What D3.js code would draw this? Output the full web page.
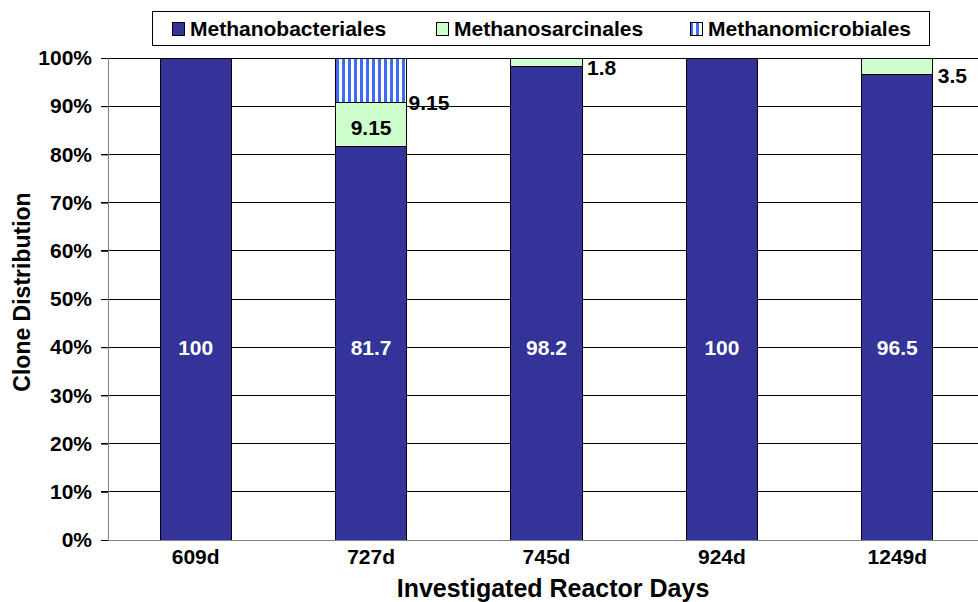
<!DOCTYPE html>
<html>
<head>
<meta charset="utf-8">
<script src="https://cdn.jsdelivr.net/npm/d3@7"></script>
<style>
  body { margin: 0; background: #fff; }
  text { font-family: "Liberation Sans", Arial, sans-serif; font-weight: bold; }
</style>
</head>
<body>
<div id="chart"></div>
<script>
const categories = ["609d", "727d", "745d", "924d", "1249d"];
const bacteriales = [100, 81.7, 98.2, 100, 96.5];
const sarcinales = [0, 9.15, 1.8, 0, 3.5];
const microbiales = [0, 9.15, 0, 0, 0];
const seriesNames = ["Methanobacteriales", "Methanosarcinales", "Methanomicrobiales"];
const yTicks = [0, 10, 20, 30, 40, 50, 60, 70, 80, 90, 100];

const w = 978, h = 602;
const plotLeft = 108, plotRight = 985, plotTop = 58, plotBottom = 540;

const svg = d3.select("#chart").append("svg")
  .attr("width", w)
  .attr("height", h);

// stripe pattern for Methanomicrobiales
const defs = svg.append("defs");
const pat = defs.append("pattern")
  .attr("id", "stripes")
  .attr("patternUnits", "userSpaceOnUse")
  .attr("width", 6)
  .attr("height", 6);
pat.append("rect").attr("width", 6).attr("height", 6).attr("fill", "#ffffff");
pat.append("rect").attr("width", 3).attr("height", 6).attr("fill", "#3d6bff");

const colors = ["#333399", "#ccffcc", "url(#stripes)"];

const xScale = d3.scaleBand()
  .domain(categories)
  .range([plotLeft, plotRight])
  .paddingInner(0.595)
  .paddingOuter(0.2975);

const yScale = d3.scaleLinear()
  .domain([0, 100])
  .range([plotBottom, plotTop]);

// gridlines
svg.append("g")
  .selectAll("line")
  .data(yTicks.slice(1))
  .enter()
  .append("line")
  .attr("x1", plotLeft - 7)
  .attr("x2", w)
  .attr("y1", d => yScale(d))
  .attr("y2", d => yScale(d))
  .attr("stroke", "#000")
  .attr("stroke-width", 1)
  .attr("shape-rendering", "crispEdges");

// stacked data
const rows = categories.map((c, i) => ({
  cat: c,
  Methanobacteriales: bacteriales[i],
  Methanosarcinales: sarcinales[i],
  Methanomicrobiales: microbiales[i]
}));
const stacked = d3.stack().keys(seriesNames)(rows);

stacked.forEach((layer, k) => {
  svg.append("g")
    .selectAll("rect")
    .data(layer.filter(d => d[1] - d[0] > 0))
    .enter()
    .append("rect")
    .attr("x", d => xScale(d.data.cat))
    .attr("y", d => yScale(d[1]))
    .attr("width", xScale.bandwidth())
    .attr("height", d => yScale(d[0]) - yScale(d[1]))
    .attr("fill", colors[k])
    .attr("stroke", "#000")
    .attr("stroke-width", 1)
    .attr("shape-rendering", "crispEdges");
});

// axes
const yAxis = d3.axisLeft(yScale).tickValues(yTicks).tickSize(7).tickFormat(d => d + "%");
const gy = svg.append("g")
  .attr("transform", "translate(" + plotLeft + ",0)")
  .call(yAxis);
gy.select(".domain").attr("stroke", "#808080");
gy.selectAll(".tick line").attr("stroke", "#000");
gy.selectAll(".tick text")
  .attr("x", -16)
  .style("font-size", "21px")
  .style("font-family", "'Liberation Sans', Arial, sans-serif")
  .style("font-weight", "bold")
  .attr("fill", "#000");

const xAxis = d3.axisBottom(xScale).tickSize(0).tickSizeOuter(0);
const gx = svg.append("g")
  .attr("transform", "translate(0," + plotBottom + ")")
  .call(xAxis);
gx.select(".domain").attr("stroke", "#808080");
gx.selectAll(".tick text")
  .attr("dy", "0.71em")
  .attr("y", 9)
  .style("font-size", "21px")
  .style("font-family", "'Liberation Sans', Arial, sans-serif")
  .style("font-weight", "bold")
  .attr("fill", "#000");

// data labels: main series inside bars (at the 40% level)
svg.append("g")
  .selectAll("text")
  .data(stacked[0])
  .enter()
  .append("text")
  .attr("x", d => xScale(d.data.cat) + xScale.bandwidth() / 2)
  .attr("y", yScale(40))
  .attr("dy", "0.35em")
  .attr("text-anchor", "middle")
  .attr("fill", "#fff")
  .style("font-size", "21px")
  .text(d => d[1] - d[0]);

// Methanosarcinales labels
stacked[1].forEach(d => {
  const v = +(d[1] - d[0]).toFixed(2);
  if (v <= 0) return;
  const big = yScale(d[0]) - yScale(d[1]) > 25;
  svg.append("text")
    .attr("x", big ? xScale(d.data.cat) + xScale.bandwidth() / 2 : xScale(d.data.cat) + xScale.bandwidth() + 5)
    .attr("y", big ? (yScale(d[0]) + yScale(d[1])) / 2 + 3 : yScale(d[0]) + 1)
    .attr("dy", "0.35em")
    .attr("text-anchor", big ? "middle" : "start")
    .attr("fill", "#000")
    .style("font-size", "21px")
    .text(v);
});

// Methanomicrobiales labels (right of bar)
stacked[2].forEach(d => {
  const v = +(d[1] - d[0]).toFixed(2);
  if (v <= 0) return;
  svg.append("text")
    .attr("x", xScale(d.data.cat) + xScale.bandwidth() + 2)
    .attr("y", yScale(d[0]) + 1)
    .attr("dy", "0.35em")
    .attr("fill", "#000")
    .style("font-size", "21px")
    .text(v);
});

// axis titles
svg.append("text")
  .attr("x", 553)
  .attr("y", 597)
  .attr("text-anchor", "middle")
  .style("font-size", "25px")
  .text("Investigated Reactor Days");

svg.append("text")
  .attr("transform", "translate(30,292) rotate(-90)")
  .attr("text-anchor", "middle")
  .style("font-size", "23px")
  .text("Clone Distribution");

// legend
const legend = svg.append("g");
legend.append("rect")
  .attr("x", 152.5)
  .attr("y", 11.5)
  .attr("width", 777)
  .attr("height", 34)
  .attr("fill", "#fff")
  .attr("stroke", "#000")
  .attr("stroke-width", 1);
const legX = [172, 436, 690];
seriesNames.forEach((name, k) => {
  legend.append("rect")
    .attr("x", legX[k] + 0.5)
    .attr("y", 22.5)
    .attr("width", 12)
    .attr("height", 13)
    .attr("fill", colors[k])
    .attr("stroke", "#000")
    .attr("stroke-width", 1);
  legend.append("text")
    .attr("x", legX[k] + 18)
    .attr("y", 29)
    .attr("dy", "0.35em")
    .style("font-size", "21px")
    .text(name);
});
</script>
</body>
</html>
